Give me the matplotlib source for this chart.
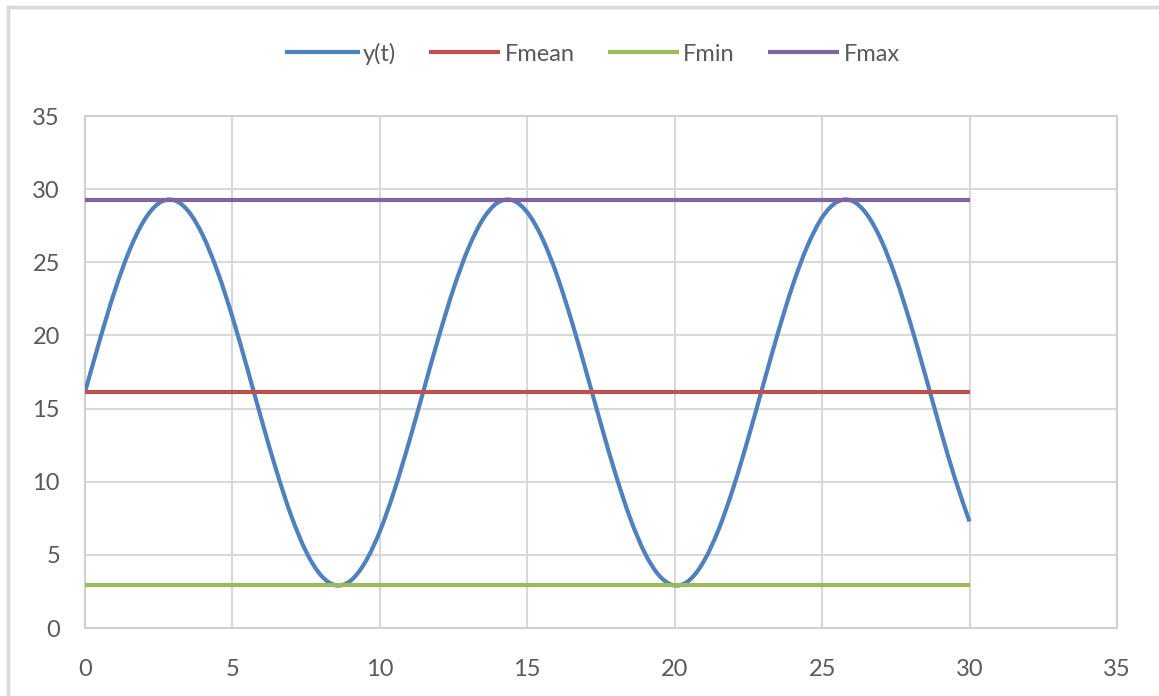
import matplotlib.pyplot as plt
from matplotlib.lines import Line2D
from matplotlib.path import Path
from matplotlib.patches import PathPatch

# values (t step 0.5)
t = [i * 0.5 for i in range(61)]
y = [16.10, 19.67, 22.98, 25.77, 27.84, 29.03, 29.26, 28.51, 26.83, 24.35,
     21.27, 17.78, 14.17, 10.71, 7.65, 5.22, 3.61, 2.92, 3.22, 4.48,
     6.60, 9.44, 12.77, 16.35, 19.91, 23.19, 25.94, 27.95, 29.08, 29.24,
     28.42, 26.69, 24.16, 21.03, 17.53, 13.93, 10.49, 7.46, 5.08, 3.53,
     2.91, 3.27, 4.60, 6.78, 9.65, 13.01, 16.60, 20.15, 23.40, 26.10,
     28.06, 29.12, 29.22, 28.33, 26.54, 23.96, 20.80, 17.29, 13.68, 10.26,
     7.28]
t_span = [0, 30]
f_mean = [16.1, 16.1]
f_min = [2.94, 2.94]
f_max = [29.26, 29.26]

series = ["y(t)", "Fmean", "Fmin", "Fmax"]
colors = ["#4f81bd", "#c0504d", "#9bbb59", "#8064a2"]


def smooth_path(xs, ys):
    # Excel-like smoothed line: bezier segments through the data points
    pts = list(zip(xs, ys))
    verts = [pts[0]]
    codes = [Path.MOVETO]
    n = len(pts)
    for i in range(n - 1):
        p0 = pts[max(i - 1, 0)]
        p1 = pts[i]
        p2 = pts[i + 1]
        p3 = pts[min(i + 2, n - 1)]
        c1 = (p1[0] + (p2[0] - p0[0]) / 6, p1[1] + (p2[1] - p0[1]) / 6)
        c2 = (p2[0] - (p3[0] - p1[0]) / 6, p2[1] - (p3[1] - p1[1]) / 6)
        verts += [c1, c2, p2]
        codes += [Path.CURVE4] * 3
    return Path(verts, codes)


plt.rcParams['font.family'] = ['Lato', 'DejaVu Sans']

fig = plt.figure(figsize=(11.59, 6.96), dpi=100)
ax = fig.add_axes([0.0733, 0.0977, 0.8904, 0.7356])

ax.add_patch(PathPatch(smooth_path(t, y), fill=False, edgecolor=colors[0], lw=3,
                       capstyle='butt', zorder=3))
ax.plot([], [], color=colors[0], lw=3, label=series[0])
ax.plot(t_span, f_mean, color=colors[1], lw=3, label=series[1], solid_capstyle='butt', zorder=3)
ax.plot(t_span, f_min, color=colors[2], lw=3, label=series[2], solid_capstyle='butt', zorder=3)
ax.plot(t_span, f_max, color=colors[3], lw=3, label=series[3], solid_capstyle='butt', zorder=3)

ax.set_xlim(0, 35)
ax.set_ylim(0, 35)
ax.set_xticks(range(0, 36, 5))
ax.set_yticks(range(0, 36, 5))
ax.grid(True, color="#d9d9d9", lw=1.5)
ax.set_axisbelow(True)
for s in ax.spines.values():
    s.set_color("#d0d0d0")
    s.set_linewidth(1.5)
ax.tick_params(length=0, labelsize=17, labelcolor="#595959")
ax.tick_params(axis='x', pad=22)
ax.tick_params(axis='y', pad=18)

leg = fig.legend(loc='center', bbox_to_anchor=(0.512, 0.923), ncol=4, frameon=False,
                 fontsize=17, handlelength=3.0, handletextpad=0.2, columnspacing=1.4)
for txt in leg.get_texts():
    txt.set_color("#595959")

# outer chart border (left and top edges visible)
w, h = 1159, 696
fig.add_artist(Line2D([8 / w, 8 / w], [0, 1 - 7 / h], transform=fig.transFigure,
                      color="#d9d9d9", lw=2.5))
fig.add_artist(Line2D([8 / w, 1], [1 - 7 / h, 1 - 7 / h], transform=fig.transFigure,
                      color="#d9d9d9", lw=2.5))

fig.savefig("out.png", dpi=100)
